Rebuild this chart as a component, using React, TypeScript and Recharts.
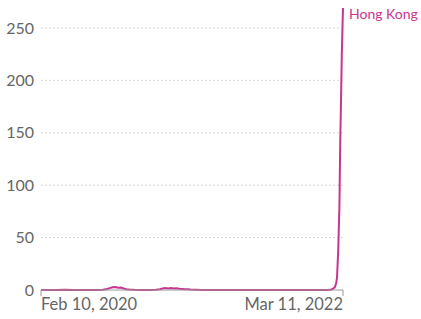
import React from "react";
import { LineChart, Line, XAxis, YAxis, CartesianGrid } from "recharts";

const dates: string[] = [
  "2020-02-10", "2020-03-01", "2020-03-20", "2020-04-10", "2020-05-01", "2020-05-20",
  "2020-06-10", "2020-07-01", "2020-07-15", "2020-07-25", "2020-08-01", "2020-08-08",
  "2020-08-15", "2020-08-22", "2020-08-29", "2020-09-05", "2020-09-12", "2020-09-19",
  "2020-10-01", "2020-10-20", "2020-11-10", "2020-11-25", "2020-12-05", "2020-12-12",
  "2020-12-19", "2020-12-26", "2021-01-02", "2021-01-09", "2021-01-16", "2021-01-23",
  "2021-01-30", "2021-02-06", "2021-02-13", "2021-02-20", "2021-03-06", "2021-03-20",
  "2021-05-01", "2021-07-01", "2021-09-01", "2021-11-01", "2022-01-01", "2022-01-20",
  "2022-02-01", "2022-02-10", "2022-02-15", "2022-02-19", "2022-02-22", "2022-02-24",
  "2022-02-27", "2022-03-02", "2022-03-04", "2022-03-06", "2022-03-08", "2022-03-10",
  "2022-03-11",
];

const hongKong: number[] = [
  0, 0.1, 0.1, 0.2, 0.1, 0,
  0, 0, 0.3, 1.0, 1.8, 2.6,
  2.8, 2.1, 2.4, 1.5, 0.8, 0.4,
  0.2, 0.1, 0.1, 0.3, 0.8, 1.4,
  1.9, 1.5, 2.0, 1.4, 1.7, 1.2,
  1.0, 0.7, 0.8, 0.4, 0.3, 0.1,
  0, 0, 0, 0, 0, 0,
  0.1, 0.5, 1.5, 3, 7, 12,
  38, 80, 140, 180, 225, 255,
  269,
];

const xTickLabels: string[] = ["Feb 10, 2020", "Mar 11, 2022"];
const yTicks: number[] = [0, 50, 100, 150, 200, 250];
const gridValues: number[] = [50, 100, 150, 200, 250];
const seriesName = "Hong Kong";

const COLOR = "#c8358f";
const FONT = "Lato, 'Noto Sans', sans-serif";

const toTs = (d: string) => new Date(d + "T00:00:00Z").getTime();

const data = dates.map((d, i) => ({ t: toTs(d), v: hongKong[i] }));
const xTicks = [toTs(dates[0]), toTs(dates[dates.length - 1])];

const XTick = (props: any) => {
  const { x, y, index } = props;
  const anchor = index === 0 ? "start" : "end";
  return (
    <text
      x={x}
      y={y}
      dy="0.71em"
      textAnchor={anchor}
      fill="#666"
      fontSize={16.5}
      fontFamily={FONT}
    >
      {xTickLabels[index]}
    </text>
  );
};

const EndLabel = (props: any) => {
  const { x, y, index } = props;
  if (index !== data.length - 1) return null;
  return (
    <text x={x + 6} y={y + 11} fill={COLOR} fontSize={14} fontFamily={FONT}>
      {seriesName}
    </text>
  );
};

export default function App() {
  return (
    <div style={{ position: "absolute", left: 0, top: 0, width: 421, height: 319, background: "#fff" }}>
      <LineChart
        width={421}
        height={319}
        data={data}
        margin={{ top: 8, right: 78, bottom: 0, left: 0 }}
      >
        <CartesianGrid
          vertical={false}
          horizontalValues={gridValues}
          stroke="#d6d6d6"
          strokeDasharray="2 2"
        />
        <XAxis
          dataKey="t"
          type="number"
          scale="time"
          domain={[xTicks[0], xTicks[1]]}
          ticks={xTicks}
          height={29}
          tick={<XTick />}
          tickLine={{ stroke: "#999" }}
          axisLine={{ stroke: "#999" }}
          tickSize={6}
          tickMargin={2}
          interval={0}
        />
        <YAxis
          type="number"
          domain={[0, 269]}
          ticks={yTicks}
          width={41}
          axisLine={false}
          tickLine={false}
          tickMargin={1}
          tick={{ fill: "#666", fontSize: 16, fontFamily: FONT }}
          interval={0}
        />
        <Line
          dataKey="v"
          type="linear"
          stroke={COLOR}
          strokeWidth={2}
          dot={false}
          isAnimationActive={false}
          label={<EndLabel />}
        />
      </LineChart>
    </div>
  );
}
